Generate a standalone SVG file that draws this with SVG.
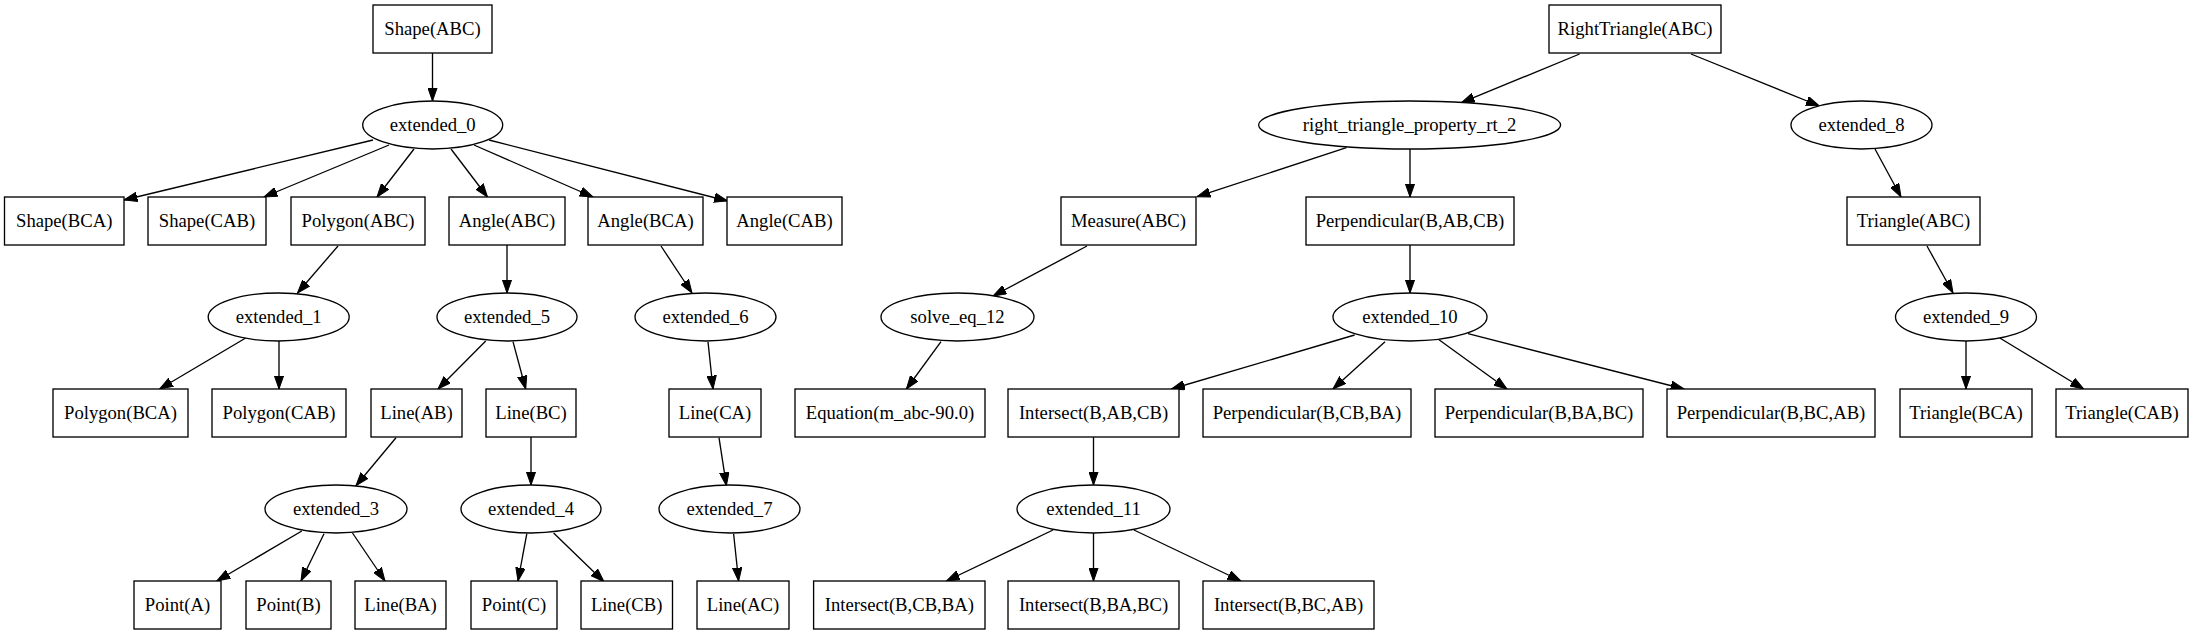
<svg xmlns="http://www.w3.org/2000/svg" width="2193" height="635" viewBox="0 0 2193 635">
<style>
.n rect,.n ellipse{fill:#fff;stroke:#000;stroke-width:1.33}
.n text{font-family:'Liberation Serif','Times New Roman',Times,serif;font-size:18.67px;text-anchor:middle;fill:#000}
.e line{stroke:#000;stroke-width:1.33;fill:none;marker-end:url(#arr)}
</style>
<defs>
<marker id="arr" markerUnits="userSpaceOnUse" markerWidth="14" markerHeight="10" refX="13.3" refY="4.67" orient="auto" viewBox="0 0 14 9.34">
<path d="M0,0 L13.3,4.67 L0,9.34 z" fill="#000" stroke="#000" stroke-width="1"/>
</marker>
</defs>
<rect width="2193" height="635" fill="#fff"/>
<g id="edges" class="e">
<line x1="432.5" y1="53" x2="432.5" y2="101"/>
<line x1="373" y1="140" x2="124" y2="200"/>
<line x1="389" y1="145" x2="264" y2="197"/>
<line x1="414" y1="149" x2="377" y2="197"/>
<line x1="451" y1="149" x2="487.5" y2="197"/>
<line x1="474" y1="145" x2="593" y2="197"/>
<line x1="489" y1="140" x2="727.5" y2="201"/>
<line x1="338" y1="246" x2="297.5" y2="293"/>
<line x1="507" y1="245" x2="507" y2="293"/>
<line x1="661" y1="246" x2="692" y2="293"/>
<line x1="1087" y1="246" x2="993" y2="296"/>
<line x1="245.7" y1="338" x2="159.6" y2="389"/>
<line x1="279" y1="341" x2="279" y2="389"/>
<line x1="485.7" y1="341" x2="438" y2="389"/>
<line x1="513" y1="341.7" x2="525.7" y2="389"/>
<line x1="396" y1="437.7" x2="356" y2="485.7"/>
<line x1="531" y1="437" x2="531" y2="485"/>
<line x1="301.8" y1="531" x2="216.8" y2="581"/>
<line x1="324" y1="533.7" x2="301" y2="581"/>
<line x1="352.5" y1="533" x2="385" y2="581"/>
<line x1="526.8" y1="533.7" x2="518" y2="581"/>
<line x1="553.6" y1="533" x2="604" y2="581.7"/>
<line x1="708" y1="341.7" x2="713" y2="389"/>
<line x1="719" y1="437.7" x2="726.4" y2="485.7"/>
<line x1="733.6" y1="533.7" x2="738.6" y2="581"/>
<line x1="941" y1="341.7" x2="906.4" y2="389"/>
<line x1="1093.5" y1="437" x2="1093.5" y2="485"/>
<line x1="1053" y1="530" x2="946.4" y2="581"/>
<line x1="1093.5" y1="533" x2="1093.5" y2="581"/>
<line x1="1134" y1="530" x2="1241" y2="581"/>
<line x1="1579.6" y1="54" x2="1461.4" y2="102.7"/>
<line x1="1691" y1="54" x2="1819.4" y2="106"/>
<line x1="1346.4" y1="147.7" x2="1197" y2="196.7"/>
<line x1="1410" y1="149" x2="1410" y2="197"/>
<line x1="1410" y1="245" x2="1410" y2="293"/>
<line x1="1354.6" y1="335" x2="1171.4" y2="389"/>
<line x1="1385" y1="341.7" x2="1332.9" y2="389"/>
<line x1="1439" y1="339.7" x2="1507" y2="389"/>
<line x1="1468" y1="333.7" x2="1684" y2="389"/>
<line x1="1875" y1="149" x2="1901" y2="197"/>
<line x1="1927" y1="246" x2="1953" y2="293"/>
<line x1="1966" y1="341" x2="1966" y2="389"/>
<line x1="1999.8" y1="338" x2="2083.7" y2="389"/>
</g>
<g id="n_shape_abc" class="n"><rect x="373" y="5" width="119" height="48"/><text x="432.5" y="34.5">Shape(ABC)</text></g>
<g id="n_ext0" class="n"><ellipse cx="432.7" cy="125" rx="70" ry="24"/><text x="432.7" y="130.5">extended_0</text></g>
<g id="n_shape_bca" class="n"><rect x="4.5" y="197" width="119.5" height="48"/><text x="64.2" y="226.5">Shape(BCA)</text></g>
<g id="n_shape_cab" class="n"><rect x="148" y="197" width="118" height="48"/><text x="207" y="226.5">Shape(CAB)</text></g>
<g id="n_polygon_abc" class="n"><rect x="291" y="197" width="134" height="48"/><text x="358" y="226.5">Polygon(ABC)</text></g>
<g id="n_angle_abc" class="n"><rect x="449" y="197" width="116" height="48"/><text x="507" y="226.5">Angle(ABC)</text></g>
<g id="n_angle_bca" class="n"><rect x="588" y="197" width="115" height="48"/><text x="645.5" y="226.5">Angle(BCA)</text></g>
<g id="n_angle_cab" class="n"><rect x="727" y="197" width="115" height="48"/><text x="784.5" y="226.5">Angle(CAB)</text></g>
<g id="n_ext1" class="n"><ellipse cx="278.7" cy="317" rx="70.5" ry="24"/><text x="278.7" y="322.5">extended_1</text></g>
<g id="n_ext5" class="n"><ellipse cx="507" cy="317" rx="70" ry="24"/><text x="507" y="322.5">extended_5</text></g>
<g id="n_ext6" class="n"><ellipse cx="705.5" cy="317" rx="70.5" ry="24"/><text x="705.5" y="322.5">extended_6</text></g>
<g id="n_polygon_bca" class="n"><rect x="53" y="389" width="135" height="48"/><text x="120.5" y="418.5">Polygon(BCA)</text></g>
<g id="n_polygon_cab" class="n"><rect x="212" y="389" width="134" height="48"/><text x="279" y="418.5">Polygon(CAB)</text></g>
<g id="n_line_ab" class="n"><rect x="371" y="389" width="91" height="48"/><text x="416.5" y="418.5">Line(AB)</text></g>
<g id="n_line_bc" class="n"><rect x="486" y="389" width="90" height="48"/><text x="531" y="418.5">Line(BC)</text></g>
<g id="n_line_ca" class="n"><rect x="669" y="389" width="92" height="48"/><text x="715" y="418.5">Line(CA)</text></g>
<g id="n_ext3" class="n"><ellipse cx="336" cy="509" rx="71" ry="24"/><text x="336" y="514.5">extended_3</text></g>
<g id="n_ext4" class="n"><ellipse cx="531" cy="509" rx="70" ry="24"/><text x="531" y="514.5">extended_4</text></g>
<g id="n_ext7" class="n"><ellipse cx="729.5" cy="509" rx="70.5" ry="24"/><text x="729.5" y="514.5">extended_7</text></g>
<g id="n_point_a" class="n"><rect x="134" y="581" width="87" height="48"/><text x="177.5" y="610.5">Point(A)</text></g>
<g id="n_point_b" class="n"><rect x="246" y="581" width="85" height="48"/><text x="288.5" y="610.5">Point(B)</text></g>
<g id="n_line_ba" class="n"><rect x="355" y="581" width="91" height="48"/><text x="400.5" y="610.5">Line(BA)</text></g>
<g id="n_point_c" class="n"><rect x="471" y="581" width="86" height="48"/><text x="514" y="610.5">Point(C)</text></g>
<g id="n_line_cb" class="n"><rect x="581" y="581" width="91.5" height="48"/><text x="626.7" y="610.5">Line(CB)</text></g>
<g id="n_line_ac" class="n"><rect x="697" y="581" width="92" height="48"/><text x="743" y="610.5">Line(AC)</text></g>
<g id="n_righttri_abc" class="n"><rect x="1549" y="5" width="172" height="48"/><text x="1635" y="34.5">RightTriangle(ABC)</text></g>
<g id="n_rtp2" class="n"><ellipse cx="1409.6" cy="125" rx="151" ry="24"/><text x="1409.6" y="130.5">right_triangle_property_rt_2</text></g>
<g id="n_ext8" class="n"><ellipse cx="1861.5" cy="125" rx="70.5" ry="24"/><text x="1861.5" y="130.5">extended_8</text></g>
<g id="n_measure_abc" class="n"><rect x="1061" y="197" width="135" height="48"/><text x="1128.5" y="226.5">Measure(ABC)</text></g>
<g id="n_perp_b_ab_cb" class="n"><rect x="1306" y="197" width="208" height="48"/><text x="1410" y="226.5">Perpendicular(B,AB,CB)</text></g>
<g id="n_triangle_abc" class="n"><rect x="1847" y="197" width="133" height="48"/><text x="1913.5" y="226.5">Triangle(ABC)</text></g>
<g id="n_solve12" class="n"><ellipse cx="957.5" cy="317" rx="76.5" ry="24"/><text x="957.5" y="322.5">solve_eq_12</text></g>
<g id="n_ext10" class="n"><ellipse cx="1410" cy="317" rx="77" ry="24"/><text x="1410" y="322.5">extended_10</text></g>
<g id="n_ext9" class="n"><ellipse cx="1966" cy="317" rx="70.5" ry="24"/><text x="1966" y="322.5">extended_9</text></g>
<g id="n_equation" class="n"><rect x="795" y="389" width="190" height="48"/><text x="890" y="418.5">Equation(m_abc-90.0)</text></g>
<g id="n_int_b_ab_cb" class="n"><rect x="1008" y="389" width="171" height="48"/><text x="1093.5" y="418.5">Intersect(B,AB,CB)</text></g>
<g id="n_perp_b_cb_ba" class="n"><rect x="1203" y="389" width="208" height="48"/><text x="1307" y="418.5">Perpendicular(B,CB,BA)</text></g>
<g id="n_perp_b_ba_bc" class="n"><rect x="1435" y="389" width="208" height="48"/><text x="1539" y="418.5">Perpendicular(B,BA,BC)</text></g>
<g id="n_perp_b_bc_ab" class="n"><rect x="1667" y="389" width="208" height="48"/><text x="1771" y="418.5">Perpendicular(B,BC,AB)</text></g>
<g id="n_triangle_bca" class="n"><rect x="1900" y="389" width="132" height="48"/><text x="1966" y="418.5">Triangle(BCA)</text></g>
<g id="n_triangle_cab" class="n"><rect x="2056" y="389" width="132" height="48"/><text x="2122" y="418.5">Triangle(CAB)</text></g>
<g id="n_ext11" class="n"><ellipse cx="1093.5" cy="509" rx="76.5" ry="24"/><text x="1093.5" y="514.5">extended_11</text></g>
<g id="n_int_b_cb_ba" class="n"><rect x="813.6" y="581" width="171.4" height="48"/><text x="899.3" y="610.5">Intersect(B,CB,BA)</text></g>
<g id="n_int_b_ba_bc" class="n"><rect x="1008" y="581" width="171" height="48"/><text x="1093.5" y="610.5">Intersect(B,BA,BC)</text></g>
<g id="n_int_b_bc_ab" class="n"><rect x="1203" y="581" width="171" height="48"/><text x="1288.5" y="610.5">Intersect(B,BC,AB)</text></g>
</svg>
